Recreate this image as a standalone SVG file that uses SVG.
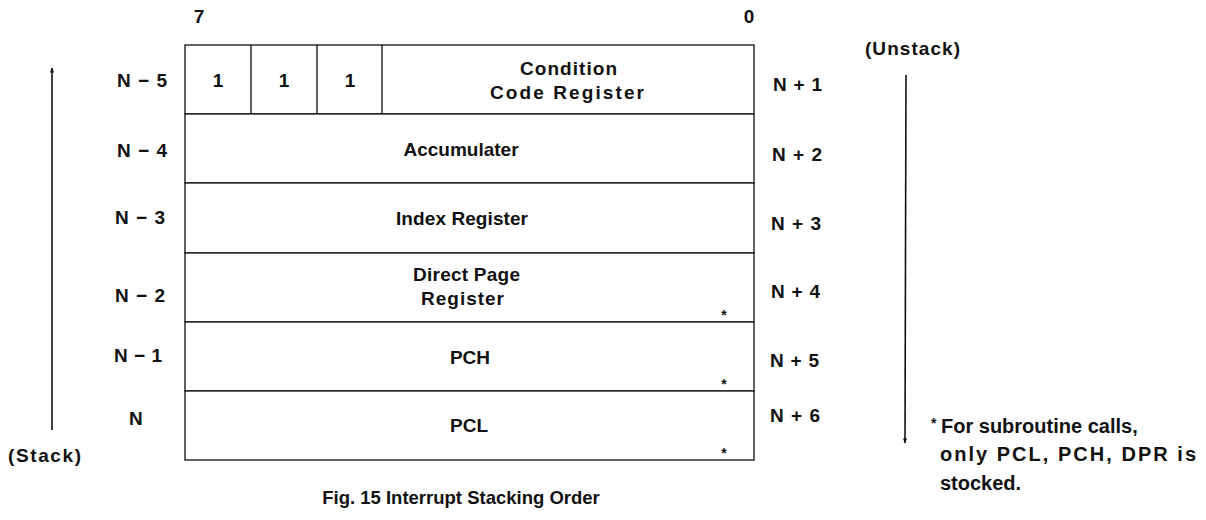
<svg xmlns="http://www.w3.org/2000/svg" width="1206" height="520" viewBox="0 0 1206 520">
<style>
text{font-family:"Liberation Sans",Arial,sans-serif;font-weight:bold;font-size:19px;fill:#111}
.c{text-anchor:middle}
.box{fill:#fff;stroke:#111;stroke-width:1.3}
.ln{stroke:#111;stroke-width:1.6;fill:none}
.div{stroke:#111;stroke-width:1.3}
.st{font-size:14px}
.fn{font-size:20px}
.cap{font-size:18.5px}
</style>
<defs>
<marker id="ah" viewBox="0 0 10 10" refX="9" refY="5" markerWidth="5" markerHeight="6" orient="auto" markerUnits="userSpaceOnUse">
<path d="M0,1 L10,5 L0,9 Z" fill="#111"/>
</marker>
</defs>
<rect width="1206" height="520" fill="#fff"/>
<text class="c" x="199" y="23">7</text>
<text class="c" x="749" y="23">0</text>
<g id="ccr">
<rect class="box" x="185" y="45" width="569" height="69"/>
<line class="div" x1="251" y1="45" x2="251" y2="114"/>
<line class="div" x1="317" y1="45" x2="317" y2="114"/>
<line class="div" x1="382" y1="45" x2="382" y2="114"/>
<text class="c" x="218" y="87">1</text>
<text class="c" x="284" y="87">1</text>
<text class="c" x="350" y="87">1</text>
<text x="520" y="75" textLength="97" lengthAdjust="spacing">Condition</text>
<text x="490" y="99" textLength="154" lengthAdjust="spacing">Code Register</text>
</g>
<g id="acc">
<rect class="box" x="185" y="114" width="569" height="69"/>
<text class="c" x="461" y="156">Accumulater</text>
</g>
<g id="ix">
<rect class="box" x="185" y="183" width="569" height="70"/>
<text x="396" y="225" textLength="132" lengthAdjust="spacing">Index Register</text>
</g>
<g id="dpr">
<rect class="box" x="185" y="253" width="569" height="69"/>
<text x="413" y="281" textLength="107" lengthAdjust="spacing">Direct Page</text>
<text x="421" y="305" textLength="83" lengthAdjust="spacing">Register</text>
<text class="c st" x="724" y="320">*</text>
</g>
<g id="pch">
<rect class="box" x="185" y="322" width="569" height="69"/>
<text class="c" x="470" y="364">PCH</text>
<text class="c st" x="724" y="389">*</text>
</g>
<g id="pcl">
<rect class="box" x="185" y="391" width="569" height="69"/>
<text class="c" x="469" y="432">PCL</text>
<text class="c st" x="724" y="458">*</text>
</g>
<g id="left-labels">
<text x="117" y="87" textLength="50" lengthAdjust="spacing">N−5</text>
<text x="117" y="157" textLength="50" lengthAdjust="spacing">N−4</text>
<text x="115" y="224" textLength="50" lengthAdjust="spacing">N−3</text>
<text x="115" y="302" textLength="50" lengthAdjust="spacing">N−2</text>
<text x="114" y="362" textLength="48" lengthAdjust="spacing">N−1</text>
<text x="129" y="425">N</text>
</g>
<g id="right-labels">
<text x="773" y="91" textLength="49" lengthAdjust="spacing">N+1</text>
<text x="772" y="161" textLength="50" lengthAdjust="spacing">N+2</text>
<text x="771" y="230" textLength="50" lengthAdjust="spacing">N+3</text>
<text x="771" y="298" textLength="49" lengthAdjust="spacing">N+4</text>
<text x="770" y="367" textLength="49" lengthAdjust="spacing">N+5</text>
<text x="770" y="422" textLength="50" lengthAdjust="spacing">N+6</text>
</g>
<g id="connectors">
<line class="ln" x1="52" y1="430" x2="52" y2="68" marker-end="url(#ah)"/>
<line class="ln" x1="906" y1="75" x2="905" y2="443" marker-end="url(#ah)"/>
</g>
<text x="8" y="462" textLength="73" lengthAdjust="spacing">(Stack)</text>
<text x="865" y="55" textLength="95" lengthAdjust="spacing">(Unstack)</text>
<g id="footnote">
<text class="st" x="931" y="428">*</text>
<text class="fn" x="941" y="433">For subroutine calls,</text>
<text class="fn" x="940" y="461" textLength="256" lengthAdjust="spacing">only PCL, PCH, DPR is</text>
<text class="fn" x="940" y="490">stocked.</text>
</g>
<text class="c cap" x="461" y="504">Fig. 15 Interrupt Stacking Order</text>
</svg>
